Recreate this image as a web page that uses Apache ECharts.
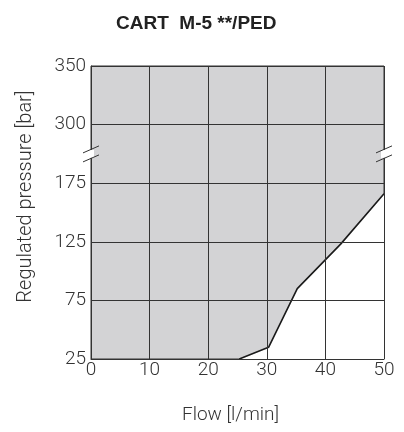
<!DOCTYPE html>
<html><head><meta charset="utf-8">
<script src="https://cdn.jsdelivr.net/npm/echarts@6/dist/echarts.min.js"></script>
<style>html,body{margin:0;padding:0;background:#fff}#c{width:404px;height:432px}</style>
</head><body><div id="c"></div>
<script>
const titleText = 'CART  M-5 **/PED';
const xName = 'Flow [l/min]';
const yName = 'Regulated pressure [bar]';
const flow = [25.3, 30.3, 35.2, 42.6, 50];
const pressure = [25, 35, 85, 123, 166];
const yTickValues = [25, 75, 125, 175, 225, 275];
const yTickLabels = ['25', '75', '125', '175', '300', '350'];
const xTicks = [0, 10, 20, 30, 40, 50];

const chart = echarts.init(document.getElementById('c'), null, {renderer: 'canvas'});
const axisFont = {fontFamily: 'Roboto', fontWeight: 300, fontSize: 19, color: '#333'};
const option = {
  animation: false,
  backgroundColor: '#fff',
  title: {text: titleText, left: 111, top: 9, textStyle: {fontFamily: 'Liberation Sans', fontWeight: 'bold', fontSize: 19, color: '#222'}},
  grid: {left: 91, right: 20, top: 66, bottom: 73, show: true, backgroundColor: '#d3d3d5', borderColor: '#333', borderWidth: 1},
  xAxis: {
    type: 'value', min: xTicks[0], max: xTicks[xTicks.length - 1], interval: 10, z: 5,
    name: xName, nameLocation: 'middle', nameGap: 47,
    nameTextStyle: Object.assign({}, axisFont, {fontSize: 19, padding: [0, 14, 0, 0]}),
    axisLine: {show: true, lineStyle: {color: '#333', width: 1}},
    axisTick: {show: false},
    axisLabel: Object.assign({margin: 2}, axisFont),
    splitLine: {show: true, lineStyle: {color: '#333', width: 1}}
  },
  yAxis: {
    type: 'value', min: yTickValues[0], max: yTickValues[yTickValues.length - 1], interval: 50, z: 5,
    name: yName, nameLocation: 'middle', nameGap: 55,
    nameTextStyle: Object.assign({}, axisFont, {fontSize: 20, padding: [0, 0, 0, 32]}),
    axisLine: {show: true, lineStyle: {color: '#333', width: 1}},
    axisTick: {show: false},
    axisLabel: Object.assign({margin: 5, formatter: v => yTickLabels[yTickValues.indexOf(v)]}, axisFont),
    splitLine: {show: true, lineStyle: {color: '#333', width: 1}}
  },
  series: [{
    type: 'line', data: flow.map((f, i) => [f, pressure[i]]), symbol: 'none', z: 2,
    lineStyle: {color: '#1a1a1a', width: 1.6},
    areaStyle: {color: '#fff', opacity: 1, origin: 'start'}
  }]
};
chart.setOption(option);

function drawBreaks() {
  const yb = chart.convertToPixel({gridIndex: 0}, [0, 200])[1];
  const xl = chart.convertToPixel({gridIndex: 0}, [0, 200])[0];
  const xr = chart.convertToPixel({gridIndex: 0}, [50, 200])[0];
  const els = [];
  [xl, xr].forEach(x => {
    els.push({type: 'rect', shape: {x: x - 3, y: yb - 4, width: 6, height: 8}, style: {fill: '#fff'}, z: 10});
    els.push({type: 'line', shape: {x1: x - 8, y1: yb - 1, x2: x + 8, y2: yb - 8}, style: {stroke: '#333', lineWidth: 1}, z: 11});
    els.push({type: 'line', shape: {x1: x - 8, y1: yb + 8, x2: x + 8, y2: yb + 1}, style: {stroke: '#333', lineWidth: 1}, z: 11});
  });
  chart.setOption({graphic: els});
}
drawBreaks();
</script></body></html>
